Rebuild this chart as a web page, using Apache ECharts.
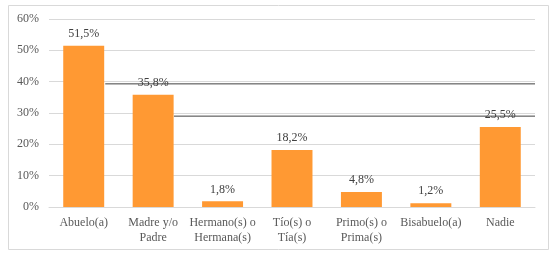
<!DOCTYPE html>
<html><head><meta charset="utf-8">
<script src="https://cdn.jsdelivr.net/npm/echarts@6/dist/echarts.min.js"></script>
<style>html,body{margin:0;padding:0;background:#fff}#c{width:560px;height:256px}</style>
</head><body><div id="c"></div>
<script>
const categories = ["Abuelo(a)", "Madre y/o\nPadre", "Hermano(s) o\nHermana(s)", "Tío(s) o\nTía(s)", "Primo(s) o\nPrima(s)", "Bisabuelo(a)", "Nadie"];
const values = [51.5, 35.8, 1.8, 18.2, 4.8, 1.2, 25.5];
const yTicks = [0, 10, 20, 30, 40, 50, 60];
// stray dark horizontal rules seen in the reference (level %, start in category units)
const ruleLevels = [39.3, 29.0];
const ruleStarts = [0.81, 1.8];
const ruleEnd = 7;

const font = '"Liberation Serif", "Times New Roman", serif';
const chart = echarts.init(document.getElementById('c'), null, {renderer: 'canvas'});
const ruleSeries = ruleLevels.map((lv, i) => ({
  type: 'line', xAxisIndex: 1, yAxisIndex: 0, z: 1, silent: true,
  showSymbol: false, symbol: 'none',
  lineStyle: {color: '#404040', width: 1},
  data: [[ruleStarts[i], lv], [ruleEnd, lv]]
}));
chart.setOption({
  animation: false,
  textStyle: {fontFamily: font},
  graphic: [{type: 'rect', shape: {x: 8.5, y: 5.5, width: 540, height: 244}, style: {fill: 'none', stroke: '#d9d9d9', lineWidth: 1}, silent: true, z: -10}],
  grid: {left: 49, right: 25, top: 19, bottom: 49},
  xAxis: [{
    type: 'category', data: categories,
    axisLine: {lineStyle: {color: '#d9d9d9'}}, axisTick: {show: false},
    axisLabel: {interval: 0, color: '#595959', fontFamily: font, fontSize: 12, margin: 8, lineHeight: 15}
  }, {
    type: 'value', min: 0, max: ruleEnd, show: false
  }],
  yAxis: {
    type: 'value', min: 0, max: 60, interval: 10,
    axisLine: {show: false}, axisTick: {show: false},
    splitLine: {lineStyle: {color: '#d9d9d9'}},
    axisLabel: {color: '#595959', fontFamily: font, fontSize: 12, margin: 10, formatter: v => v + '%'}
  },
  series: [...ruleSeries, {
    type: 'bar', data: values, z: 2, barWidth: '59%',
    itemStyle: {color: '#FF9933'},
    label: {show: true, position: 'top', distance: 6, color: '#404040', fontFamily: font, fontSize: 12,
      formatter: p => p.value.toFixed(1).replace('.', ',') + '%'}
  }]
});
</script></body></html>
